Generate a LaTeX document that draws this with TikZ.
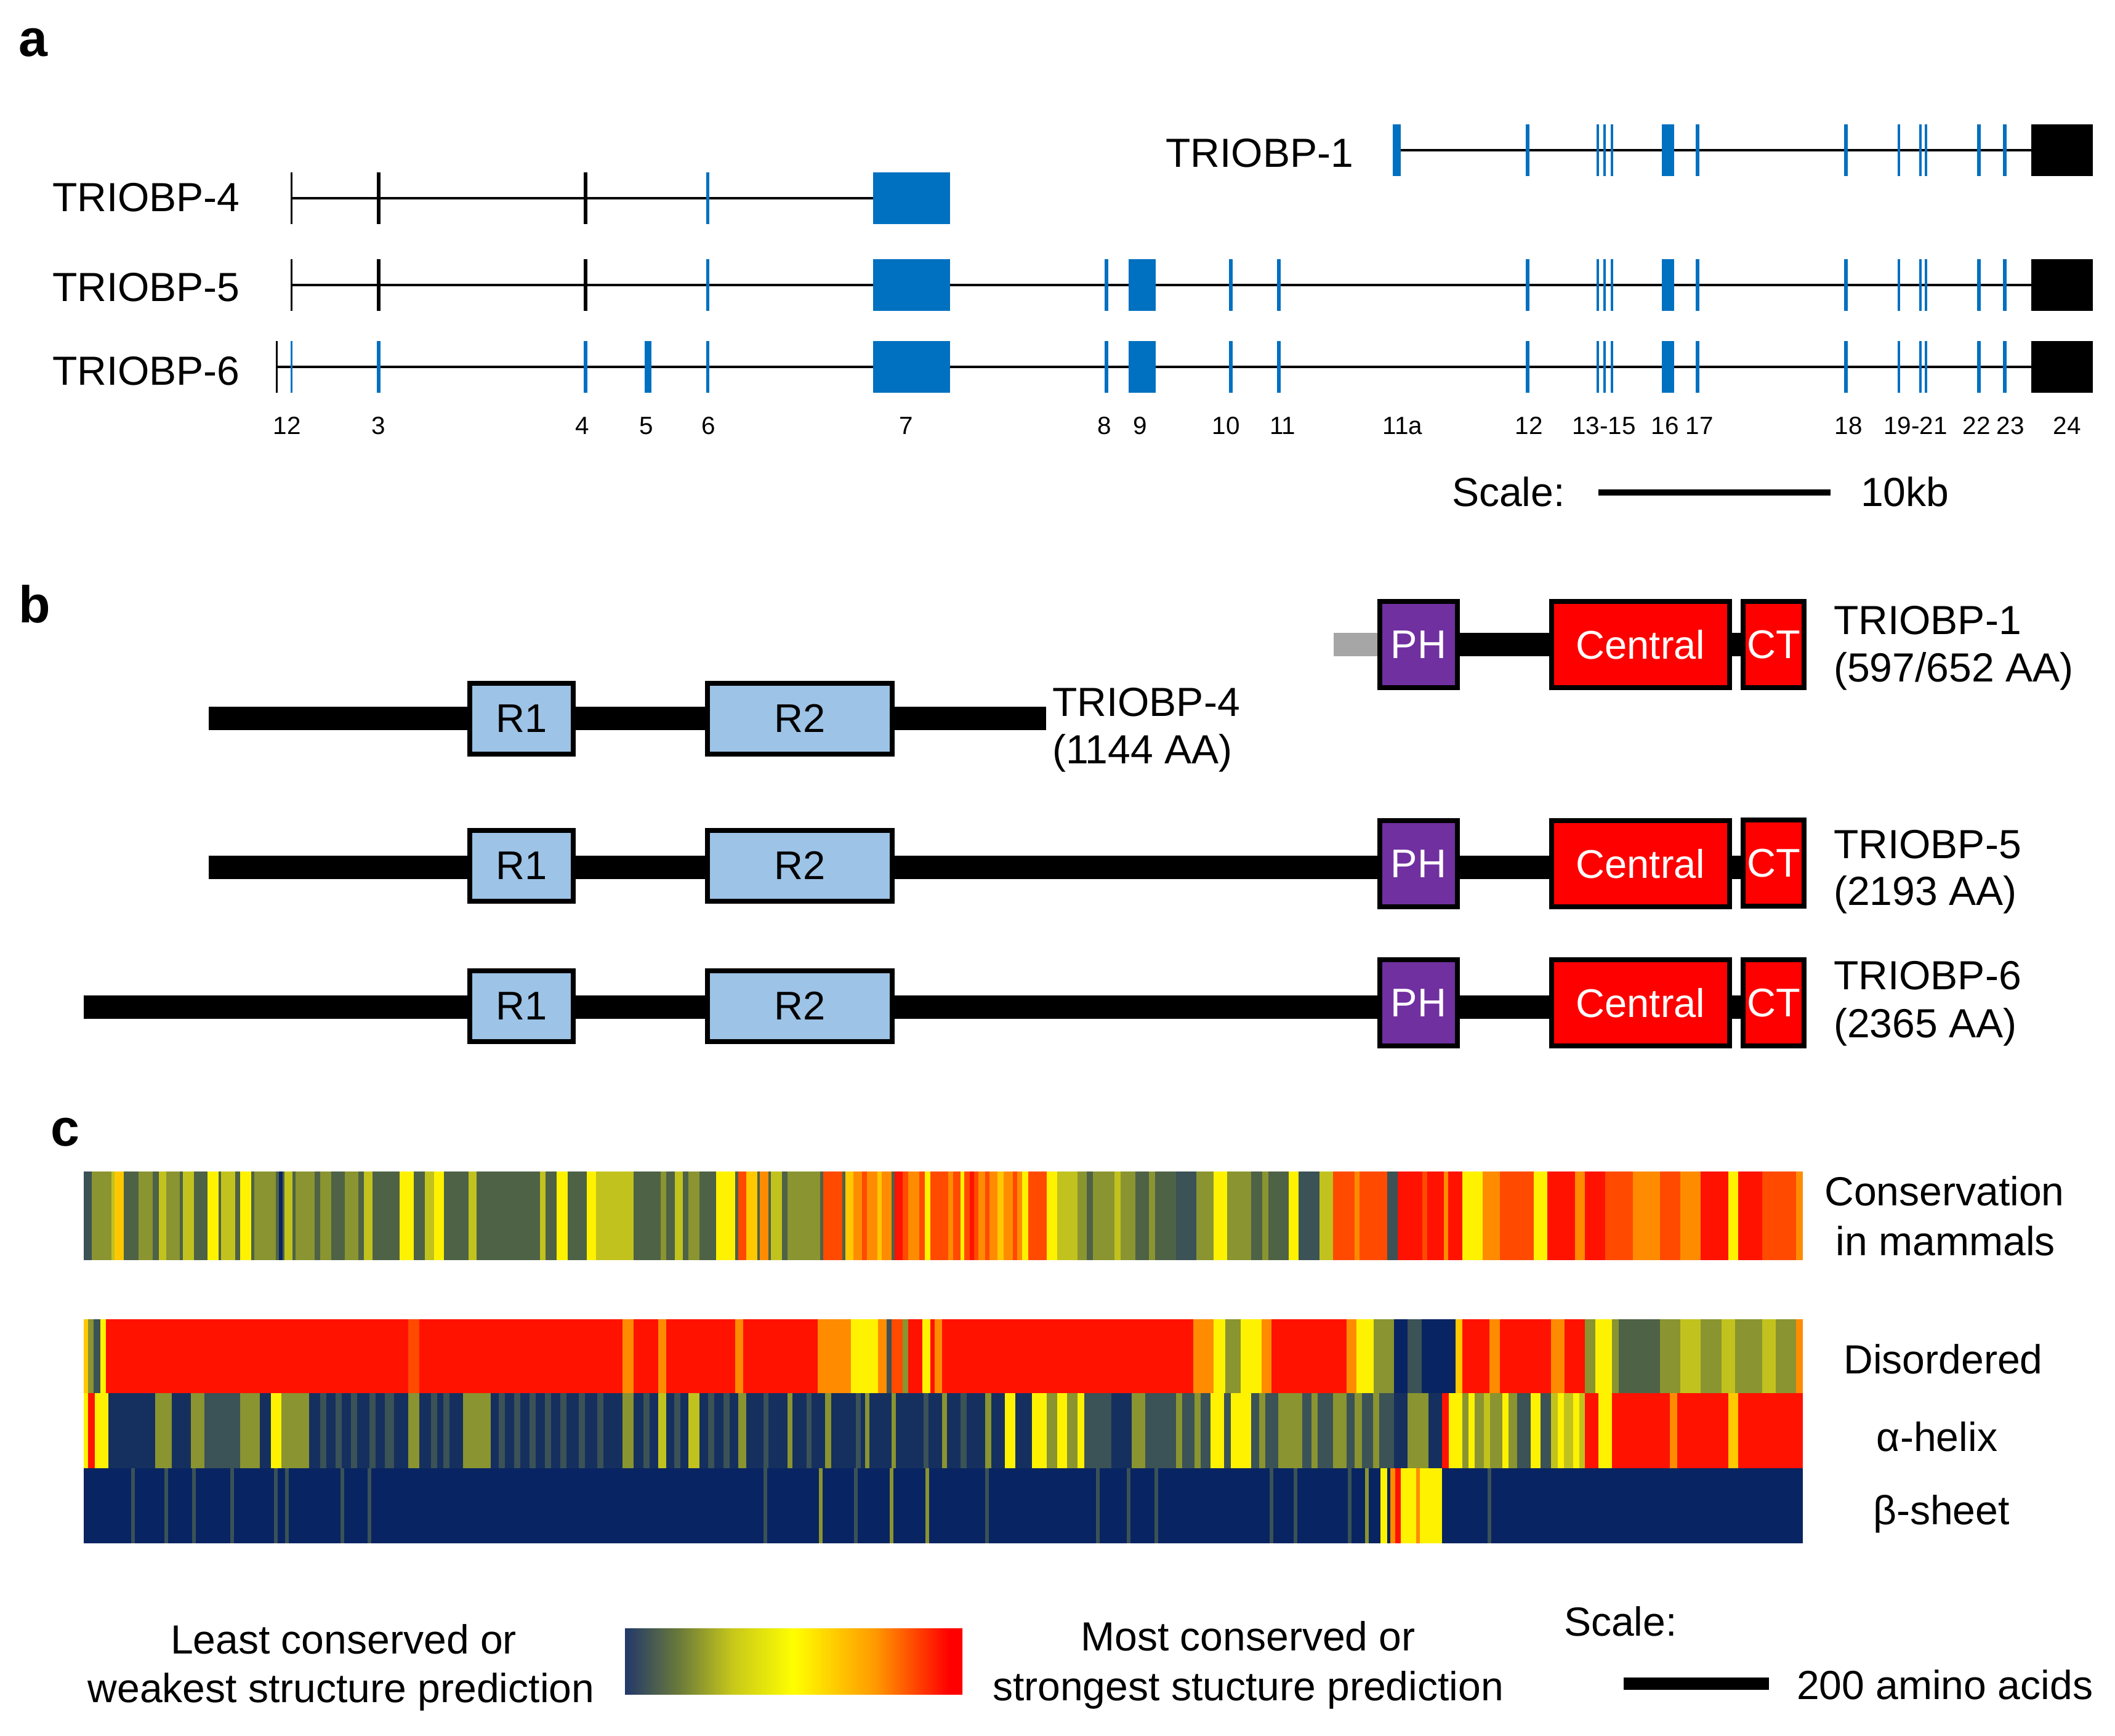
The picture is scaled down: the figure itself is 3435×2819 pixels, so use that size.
\documentclass[tikz,border=0pt]{standalone}
\usepackage{fontspec}
\setmainfont{Liberation Sans}
\definecolor{eb}{HTML}{0070C0}
\definecolor{rfill}{HTML}{9DC3E6}
\definecolor{phfill}{HTML}{7030A0}
\definecolor{dred}{HTML}{FF0000}
\definecolor{gbar}{HTML}{A6A6A6}
\definecolor{cN}{HTML}{082462}
\definecolor{cN2}{HTML}{15305F}
\definecolor{cS}{HTML}{3B5256}
\definecolor{cD}{HTML}{4E6246}
\definecolor{cO}{HTML}{8A9430}
\definecolor{cL}{HTML}{C2C21E}
\definecolor{cY}{HTML}{FFF200}
\definecolor{cYO}{HTML}{FFC800}
\definecolor{cA}{HTML}{FF8C00}
\definecolor{cRO}{HTML}{FF4A00}
\definecolor{cR}{HTML}{FF1200}
\definecolor{hN}{HTML}{22386A}
\definecolor{hD}{HTML}{6A7A3A}
\definecolor{hO}{HTML}{C8C81A}
\definecolor{hY}{HTML}{FFFF00}
\definecolor{hA}{HTML}{FF9A00}
\definecolor{hR}{HTML}{FF0000}
\pgfdeclarehorizontalshading{heat}{100bp}{color(0bp)=(hN); color(25bp)=(hN); color(33bp)=(hD); color(41bp)=(hO); color(50bp)=(hY); color(62bp)=(hA); color(73bp)=(hR); color(100bp)=(hR)}
\newcommand\exrow[2]{\foreach \p/\w/\c in {#2} \fill[\c] ({\p-\w/2},{#1-42}) rectangle ({\p+\w/2},{#1+42});}
\newcommand\rightexons{1797/6/eb, 1855/44/eb, 1999/6/eb, 2077/6/eb, 2481/6/eb, 2595/3.5/eb, 2606/3.5/eb, 2618/3.5/eb, 2709/20/eb, 2757/6/eb, 2998/6/eb, 3084/3.5/eb, 3119/3.5/eb, 3128/3.5/eb, 3214/6/eb, 3256/6/eb, 3349/100/black}
\newcommand\exrowR[1]{\foreach \p/\w/\c in \rightexons \fill[\c] ({\p-\w/2},{#1-42}) rectangle ({\p+\w/2},{#1+42});}
\newcommand\heatrow[4]{\fill[#3] (136,#1) rectangle (2928,#2);
  \foreach \a/\b/\c in {#4} \fill[\c] (\a,#1) rectangle (\b,#2);}
\begin{document}
\begin{tikzpicture}[x=0.1mm,y=-0.1mm,
  lab/.style={font=\fontsize{18.8}{22}\selectfont, inner sep=0, outer sep=0},
  exn/.style={font=\fontsize{11.5}{13}\selectfont, inner sep=0, anchor=base},
  panel/.style={font=\fontsize{24}{28}\selectfont\bfseries, inner sep=0, anchor=base west},
  dom/.style={draw=black, line width=0.8mm, inner sep=0, font=\fontsize{18.5}{22}\selectfont},
  rdom/.style={dom, fill=rfill, minimum height=11.5mm},
  phdom/.style={dom, fill=phfill, text=white, minimum width=12.6mm, minimum height=14mm},
  cdom/.style={dom, fill=dred, text=white, minimum width=28.9mm, minimum height=14mm},
  ctdom/.style={dom, fill=dred, text=white, minimum width=9.9mm, minimum height=14mm},
  bar/.style={line width=3.8mm},
  intron/.style={line width=0.4mm}]
\useasboundingbox (0,0) rectangle (3435,2819);

% ---------------- panel a ----------------
\node[panel] (pa) at (30,91) {a};
\node[lab, anchor=base west] (g4) at (85,343) {TRIOBP-4};
\node[lab, anchor=base west] (g5) at (85,489) {TRIOBP-5};
\node[lab, anchor=base west] (g6) at (85,625) {TRIOBP-6};
\node[lab, anchor=base east] (g1) at (2198,271) {TRIOBP-1};

\draw[intron] (2269,244) -- (3299,244);
\draw[intron] (473,322) -- (1418,322);
\draw[intron] (473,463) -- (3299,463);
\draw[intron] (449,596) -- (3299,596);

\exrow{244}{2268.5/13/eb, 2481/6/eb, 2595/3.5/eb, 2606/3.5/eb, 2618/3.5/eb, 2709/20/eb, 2757/6/eb, 2998/6/eb, 3084/3.5/eb, 3119/3.5/eb, 3128/3.5/eb, 3214/6/eb, 3256/6/eb, 3349/100/black}
\exrow{322}{473/3/black, 615/6/black, 951/6/black, 1149/5/eb, 1480.5/125/eb}
\exrow{463}{473/3/black, 615/6/black, 951/6/black, 1149/5/eb, 1480.5/125/eb}
\exrowR{463}
\exrow{596}{449/3/black, 473/3/eb, 615/6/eb, 951/6/eb, 1052/11/eb, 1149/5/eb, 1480.5/125/eb}
\exrowR{596}

\foreach \p/\t [count=\i] in {466/12, 615/3, 946/4, 1050/5, 1151/6, 1472/7, 1794/8, 1852/9, 1991/10, 2083/11, 2278/11a, 2483/12, 2605/13-15, 2704/16, 2760/17, 3002/18, 3111/19-21, 3210/22, 3265/23, 3357/24}
  \node[exn] (n\i) at (\p,705) {\t};

\node[lab, anchor=base west] (sca) at (2358,822) {Scale:};
\node[lab, anchor=base west] (kb) at (3022,822) {10kb};
\coordinate (sa1) at (2596,800);
\coordinate (sa2) at (2973,800);
\draw[line width=1mm] (sa1) -- (sa2);

% ---------------- panel b ----------------
\node[panel] (pb) at (30,1011) {b};
% TRIOBP-1
\coordinate (t1g) at (2166,1047);
\coordinate (t1s) at (2237,1047);
\coordinate (t1e) at (2827,1047);
\draw[bar, gbar] (t1g) -- (t1s);
\draw[bar] (t1s) -- (t1e);
\node[phdom] (ph1) at (2304,1047) {PH};
\node[cdom] (ce1) at (2664.5,1047) {Central};
\node[ctdom] (ct1) at (2880.5,1047) {CT};
\node[lab, anchor=base west] (l1a) at (2978,1030) {TRIOBP-1};
\node[lab, anchor=base west] (l1b) at (2978,1107) {(597/652 AA)};
% TRIOBP-4
\coordinate (t4s) at (339,1167);
\coordinate (t4e) at (1699,1167);
\draw[bar] (t4s) -- (t4e);
\node[rdom, minimum width=16.8mm] (r14) at (847,1167) {R1};
\node[rdom, minimum width=30mm] (r24) at (1299,1167) {R2};
\node[lab, anchor=base west] (l4a) at (1709,1163) {TRIOBP-4};
\node[lab, anchor=base west] (l4b) at (1709,1240) {(1144 AA)};
% TRIOBP-5
\coordinate (t5s) at (339,1409);
\coordinate (t5e) at (2827,1409);
\draw[bar] (t5s) -- (t5e);
\node[rdom, minimum width=16.8mm] (r15) at (847,1406) {R1};
\node[rdom, minimum width=30mm] (r25) at (1299,1406) {R2};
\node[phdom] (ph5) at (2304,1403) {PH};
\node[cdom] (ce5) at (2664.5,1403) {Central};
\node[ctdom] (ct5) at (2880.5,1402) {CT};
\node[lab, anchor=base west] (l5a) at (2978,1394) {TRIOBP-5};
\node[lab, anchor=base west] (l5b) at (2978,1470) {(2193 AA)};
% TRIOBP-6
\coordinate (t6s) at (136,1636);
\coordinate (t6e) at (2827,1636);
\draw[bar] (t6s) -- (t6e);
\node[rdom, minimum width=16.8mm] (r16) at (847,1634) {R1};
\node[rdom, minimum width=30mm] (r26) at (1299,1634) {R2};
\node[phdom] (ph6) at (2304,1629) {PH};
\node[cdom] (ce6) at (2664.5,1629) {Central};
\node[ctdom] (ct6) at (2880.5,1629) {CT};
\node[lab, anchor=base west] (l6a) at (2978,1607) {TRIOBP-6};
\node[lab, anchor=base west] (l6b) at (2978,1685) {(2365 AA)};

% ---------------- panel c ----------------
\node[panel] (pc) at (82,1861) {c};
% conservation
\heatrow{1903}{2047}{cD}{136/149/cS, 149/181/cO, 181/186/cL, 186/201/cYO, 225/248/cO, 258/270/cL, 270/292/cO, 297/315/cL, 337/355/cY, 359/382/cL, 390/408/cY, 413/448/cO, 453/459/cN, 462/475/cL, 480/511/cO, 520/538/cO, 560/582/cO, 591/605/cL, 649/672/cY, 690/705/cL, 705/721/cY, 761/774/cL, 877/886/cL, 904/922/cY, 953/968/cY, 968/1029/cL, 1073/1082/cO, 1096/1109/cL, 1118/1136/cO, 1163/1194/cY, 1199/1212/cRO, 1212/1230/cYO, 1234/1248/cA, 1252/1270/cL, 1279/1332/cO, 1337/1368/cRO, 1373/1386/cYO, 1386/1448/cA, 1400/1408/cRO, 1425/1432/cYO, 1453/1466/cR, 1466/1475/cRO, 1475/1493/cA, 1493/1502/cRO, 1502/1511/cY, 1511/1589/cRO, 1540/1548/cA, 1560/1566/cY, 1575/1582/cR, 1589/1660/cA, 1600/1607/cRO, 1620/1630/cYO, 1645/1652/cRO, 1660/1670/cY, 1670/1700/cRO, 1700/1717/cY, 1717/1750/cL, 1750/1800/cO, 1765/1775/cD, 1800/1844/cO, 1810/1820/cL, 1844/1910/cD, 1866/1876/cO, 1910/1943/cS, 1943/1971/cO, 1971/1993/cY, 1993/2032/cO, 2032/2093/cD, 2050/2060/cO, 2093/2109/cY, 2109/2143/cS, 2143/2165/cL, 2165/2253/cRO, 2200/2208/cA, 2253/2270/cS, 2270/2375/cR, 2310/2318/cRO, 2345/2352/cA, 2375/2408/cY, 2408/2436/cA, 2436/2491/cRO, 2491/2513/cY, 2513/2558/cR, 2558/2574/cA, 2574/2607/cR, 2607/2652/cRO, 2652/2696/cA, 2696/2729/cRO, 2729/2762/cA, 2762/2807/cR, 2807/2823/cY, 2823/2862/cR, 2862/2917/cRO, 2917/2928/cA}
% disordered
\heatrow{2143}{2263}{cR}{136/143/cYO, 143/152/cO, 152/163/cS, 163/172/cY, 663/681/cRO, 1011/1029/cA, 1069/1082/cA, 1194/1207/cA, 1328/1382/cA, 1382/1426/cY, 1426/1440/cA, 1440/1448/cS, 1448/1466/cRO, 1466/1475/cO, 1498/1511/cY, 1518/1530/cA, 1938/1971/cA, 1971/1990/cY, 1990/2015/cO, 2015/2049/cY, 2049/2065/cA, 2187/2203/cA, 2203/2231/cY, 2231/2264/cO, 2264/2286/cN, 2286/2309/cS, 2309/2364/cN, 2364/2375/cYO, 2419/2436/cA, 2519/2541/cA, 2574/2591/cO, 2591/2618/cY, 2618/2629/cO, 2629/2696/cD, 2696/2729/cO, 2729/2762/cL, 2762/2796/cO, 2796/2818/cL, 2818/2862/cO, 2862/2884/cL, 2884/2917/cO, 2917/2928/cA}
% alpha helix
\heatrow{2263}{2385}{cN2}{136/143/cY, 143/154/cR, 154/176/cY, 252/279/cO, 310/332/cO, 332/390/cS, 390/422/cO, 440/457/cY, 457/502/cO, 520/530/cS, 545/555/cS, 570/580/cS, 600/610/cS, 625/640/cS, 663/681/cO, 700/710/cS, 720/730/cS, 752/797/cO, 810/820/cS, 835/845/cS, 860/870/cS, 885/895/cS, 910/920/cS, 940/950/cS, 970/980/cS, 1011/1029/cO, 1045/1055/cS, 1069/1082/cL, 1095/1105/cS, 1118/1136/cL, 1150/1160/cS, 1175/1185/cS, 1199/1212/cO, 1240/1248/cS, 1279/1287/cO, 1310/1318/cS, 1340/1350/cO, 1390/1398/cS, 1405/1412/cO, 1448/1455/cO, 1500/1508/cS, 1530/1538/cO, 1560/1570/cS, 1600/1610/cO, 1632/1649/cY, 1676/1700/cY, 1700/1717/cO, 1717/1733/cY, 1733/1750/cO, 1750/1761/cY, 1761/1805/cS, 1838/1860/cO, 1860/1966/cS, 1910/1920/cO, 1940/1950/cO, 1966/1988/cY, 1988/1999/cS, 1999/2032/cY, 2032/2076/cS, 2045/2055/cO, 2076/2115/cO, 2115/2165/cS, 2130/2140/cO, 2165/2187/cO, 2187/2264/cS, 2200/2212/cO, 2230/2240/cO, 2286/2320/cO, 2342/2353/cR, 2353/2375/cY, 2375/2464/cO, 2385/2395/cY, 2410/2420/cL, 2440/2450/cY, 2464/2486/cS, 2486/2502/cY, 2502/2519/cS, 2519/2574/cL, 2530/2540/cY, 2555/2565/cY, 2574/2596/cR, 2596/2618/cY, 2618/2712/cR, 2712/2724/cA, 2724/2807/cR, 2807/2823/cYO, 2823/2928/cR}
% beta sheet
\heatrow{2385}{2507}{cN}{213/219/cS, 267/273/cS, 312/318/cS, 374/380/cS, 445/451/cS, 463/469/cS, 553/559/cS, 597/603/cS, 1240/1246/cS, 1330/1336/cO, 1387/1393/cS, 1445/1451/cO, 1503/1509/cO, 1600/1606/cS, 1780/1786/cS, 1830/1836/cS, 1875/1881/cS, 2062/2068/cS, 2101/2107/cS, 2189/2195/cS, 2217/2223/cO, 2242/2253/cY, 2258/2266/cA, 2266/2275/cR, 2275/2300/cY, 2300/2306/cA, 2306/2342/cY, 2416/2422/cS}

\node[lab, anchor=base] (cv1) at (3158,1958) {Conservation};
\node[lab, anchor=base] (cv2) at (3160,2039) {in mammals};
\node[lab, anchor=base] (dis) at (3156,2231) {Disordered};
\node[lab, anchor=base] (ahx) at (3146,2357) {α-helix};
\node[lab, anchor=base] (bsh) at (3153,2476) {β-sheet};

% legend
\shade[shading=heat] (1015,2645) rectangle (1563,2752);
\node[lab, anchor=base] (lg1) at (558,2686) {Least conserved or};
\node[lab, anchor=base] (lg2) at (554,2765) {weakest structure prediction};
\node[lab, anchor=base] (lg3) at (2027,2681) {Most conserved or};
\node[lab, anchor=base] (lg4) at (2027,2762) {strongest stucture prediction};
\node[lab, anchor=base west] (scc) at (2540,2657) {Scale:};
\node[lab, anchor=base west] (aa) at (2918,2760) {200 amino acids};
\coordinate (sc1) at (2637,2735);
\coordinate (sc2) at (2873,2735);
\draw[line width=2mm] (sc1) -- (sc2);
\end{tikzpicture}
\end{document}
